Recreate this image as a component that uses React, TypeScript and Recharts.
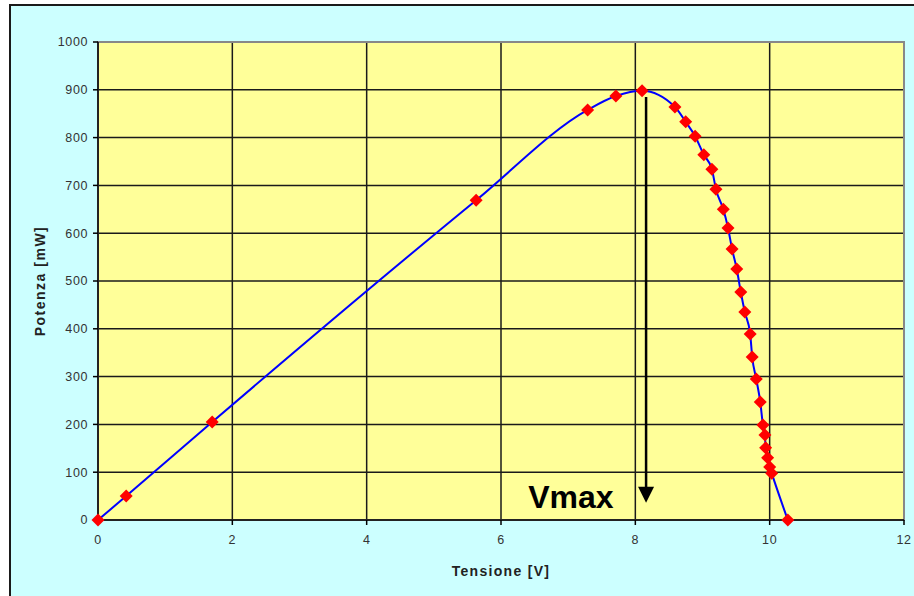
import {
  LineChart,
  Line,
  XAxis,
  YAxis,
  CartesianGrid,
  ReferenceArea,
  ReferenceLine,
  ReferenceDot,
} from 'recharts';

// Tensione [V]
const voltage = [
  0, 0.42, 1.7, 5.63, 7.29, 7.71, 8.1, 8.59, 8.75, 8.89, 9.02, 9.14, 9.2, 9.31, 9.38,
  9.44, 9.51, 9.57, 9.63, 9.71, 9.74, 9.8, 9.86, 9.9, 9.93, 9.94, 9.97, 10.0, 10.03, 10.27,
];

// Potenza [mW]
const power = [
  0, 50, 205, 669, 858, 887, 898, 864, 833, 803, 764, 734, 692, 650, 611,
  567, 525, 477, 435, 389, 341, 295, 247, 199, 178, 151, 130, 111, 98, 0,
];

const xTicks = [0, 2, 4, 6, 8, 10, 12];
const yTicks = [0, 100, 200, 300, 400, 500, 600, 700, 800, 900, 1000];

// freccia Vmax
const vMax = 8.16;
const arrowTop = 885;
const arrowTip = 36;

const data = voltage.map((v, i) => ({ v, p: power[i] }));

const font = '"Liberation Sans", Arial, sans-serif';
const tickStyle = { fill: '#333', fontSize: 12.5, fontFamily: font, letterSpacing: 0.6 };

function Diamond(props: any) {
  const { cx, cy } = props;
  if (cx == null || cy == null) return null;
  const r = 6.5;
  return (
    <polygon
      points={`${cx},${cy - r} ${cx + r},${cy} ${cx},${cy + r} ${cx - r},${cy}`}
      fill="#FF0000"
      stroke="none"
    />
  );
}

function ArrowHead(props: any) {
  const { cx, cy } = props;
  return (
    <polygon
      points={`${cx - 8},${cy - 16} ${cx + 8},${cy - 16} ${cx},${cy}`}
      fill="#000"
    />
  );
}

function VmaxText(props: any) {
  const { cx, cy } = props;
  return (
    <text
      x={cx}
      y={cy}
      textAnchor="middle"
      fontFamily={font}
      fontWeight="bold"
      fontSize={32}
      fill="#000"
    >
      Vmax
    </text>
  );
}

export default function App() {
  return (
    <div
      style={{
        position: 'absolute',
        left: 0,
        top: 0,
        width: 914,
        height: 596,
        overflow: 'hidden',
        background: '#fff',
      }}
    >
      <div
        style={{
          position: 'absolute',
          left: 9,
          top: 4,
          width: 920,
          height: 620,
          border: '2px solid #1a1a1a',
          background: '#CCFFFF',
        }}
      />
      <div style={{ position: 'absolute', left: 0, top: 0 }}>
        <LineChart
          width={914}
          height={596}
          data={data}
          margin={{ top: 42, right: 10, bottom: 46, left: 38 }}
        >
          <CartesianGrid stroke="#1a1a1a" strokeWidth={1.5} fill="#FFFF99" fillOpacity={1} />
          <ReferenceArea
            x1={0}
            x2={12}
            y1={0}
            y2={1000}
            fill="none"
            stroke="#888"
            strokeWidth={2}
            ifOverflow="visible"
          />
          <XAxis
            type="number"
            dataKey="v"
            domain={[0, 12]}
            ticks={xTicks}
            height={30}
            tick={tickStyle}
            tickSize={5}
            tickMargin={10}
            axisLine={{ stroke: '#000', strokeWidth: 1.5 }}
            tickLine={{ stroke: '#000', strokeWidth: 1.5 }}
            label={{
              content: ({ viewBox }: any) => (
                <text
                  x={viewBox.x + viewBox.width / 2}
                  y={571}
                  textAnchor="middle"
                  dominantBaseline="central"
                  fontFamily={font}
                  fontWeight="bold"
                  fontSize={14}
                  letterSpacing={1.3}
                  fill="#222"
                >
                  Tensione [V]
                </text>
              ),
            }}
          />
          <YAxis
            type="number"
            domain={[0, 1000]}
            ticks={yTicks}
            width={60}
            tick={tickStyle}
            tickSize={5}
            tickMargin={5}
            axisLine={{ stroke: '#000', strokeWidth: 1.5 }}
            tickLine={{ stroke: '#000', strokeWidth: 1.5 }}
            label={{
              content: ({ viewBox }: any) => {
                const cy = viewBox.y + viewBox.height / 2;
                return (
                  <text
                    x={40}
                    y={cy}
                    transform={`rotate(-90, 40, ${cy})`}
                    textAnchor="middle"
                    dominantBaseline="central"
                    fontFamily={font}
                    fontWeight="bold"
                    fontSize={14}
                    letterSpacing={1.5}
                    fill="#222"
                  >
                    Potenza [mW]
                  </text>
                );
              },
            }}
          />
          <Line
            type="monotone"
            dataKey="p"
            stroke="#0000FF"
            strokeWidth={2}
            dot={<Diamond />}
            activeDot={false}
            isAnimationActive={false}
          />
          <ReferenceLine
            segment={[
              { x: vMax, y: arrowTop },
              { x: vMax, y: arrowTip + 20 },
            ]}
            stroke="#000"
            strokeWidth={2.5}
          />
          <ReferenceDot x={vMax} y={arrowTip} r={8} shape={<ArrowHead />} />
          <ReferenceDot x={7.04} y={25} r={1} shape={<VmaxText />} />
        </LineChart>
      </div>
    </div>
  );
}
